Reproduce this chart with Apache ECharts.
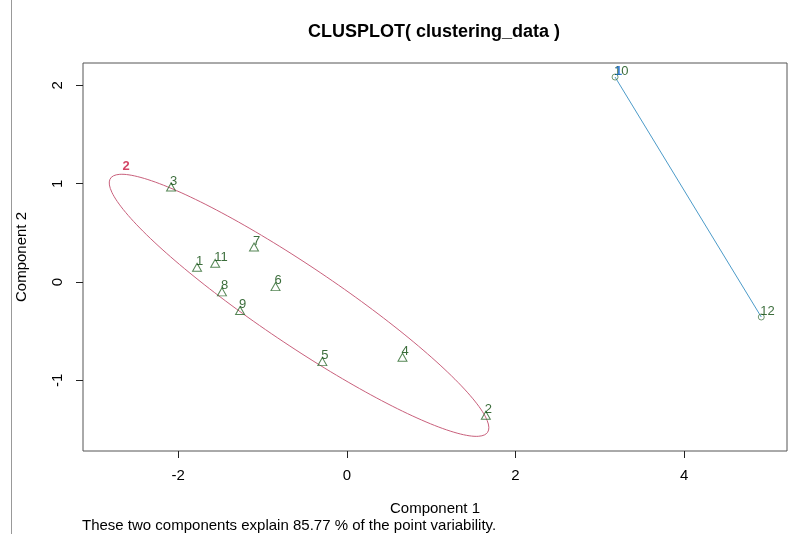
<!DOCTYPE html>
<html>
<head>
<meta charset="utf-8">
<script src="https://cdn.jsdelivr.net/npm/echarts@6/dist/echarts.min.js"></script>
<style>html,body{margin:0;padding:0;background:#fff;}#c{width:790px;height:534px;}</style>
</head>
<body>
<div id="c"></div>
<script>
// ---- data ----
const obsNames = ['1','2','3','4','5','6','7','8','9','10','11','12'];
const comp1 = [-1.775, 1.648, -2.083, 0.660, -0.290, -0.845, -1.100, -1.480, -1.265, 3.180, -1.560, 4.913];
const comp2 = [0.150, -1.356, 0.966, -0.765, -0.810, -0.047, 0.356, -0.100, -0.290, 2.085, 0.190, -0.356];
const clusterOf = [2, 2, 2, 2, 2, 2, 2, 2, 2, 1, 2, 1];
const xTicks = [-2, 0, 2, 4];
const yTicks = [-1, 0, 1, 2];
const xRange = [-3.127, 5.218];
const yRange = [-1.719, 2.228];
// cluster 2 ellipse: center, semi-axis vectors (data units)
const ellipseCenter = [-0.566, -0.237];
const ellipseAxisU = [2.235, -1.292];
const ellipseAxisV = [0.2585, 0.3286];
const clusterLabels = ['2', '1'];
const clusterLabelX = [-2.617, 3.222];
const clusterLabelY = [1.177, 2.147];
const clusterLabelColors = ['#c8173f', '#1f6fd6'];
const varExplained = 85.77;

// ---- build ----
const FONT = 'Liberation Sans, Arial, sans-serif';
const tri = [], circ = [];
obsNames.forEach((n, i) => {
  const d = {name: n, value: [comp1[i], comp2[i]]};
  (clusterOf[i] === 2 ? tri : circ).push(d);
});
const ell = [];
for (let k = 0; k <= 200; k++) {
  const t = 2 * Math.PI * k / 200;
  ell.push([ellipseCenter[0] + ellipseAxisU[0] * Math.cos(t) + ellipseAxisV[0] * Math.sin(t),
            ellipseCenter[1] + ellipseAxisU[1] * Math.cos(t) + ellipseAxisV[1] * Math.sin(t)]);
}
const seg = circ.map(d => d.value);
const ptLabel = {show: true, formatter: p => p.name, position: 'inside', align: 'left',
  verticalAlign: 'middle', offset: [-1, -6], color: '#0a480a', fontSize: 13, fontFamily: FONT};

const chart = echarts.init(document.getElementById('c'), null, {renderer: 'canvas'});
chart.setOption({
  animation: false,
  backgroundColor: '#fff',
  grid: {left: 83, right: 3, top: 63, bottom: 83, show: true, borderColor: '#555', borderWidth: 1, backgroundColor: 'transparent'},
  xAxis: {
    type: 'value', min: xRange[0], max: xRange[1],
    axisLine: {show: false, onZero: false}, splitLine: {show: false},
    axisTick: {show: true, inside: false, length: 7, customValues: xTicks, lineStyle: {color: '#222'}},
    axisLabel: {customValues: xTicks, margin: 17, color: '#000', fontSize: 15, fontFamily: FONT},
    name: 'Component 1', nameLocation: 'middle', nameGap: 50,
    nameTextStyle: {color: '#000', fontSize: 15, fontFamily: FONT}
  },
  yAxis: {
    type: 'value', min: yRange[0], max: yRange[1],
    axisLine: {show: false, onZero: false}, splitLine: {show: false},
    axisTick: {show: true, inside: false, length: 7, customValues: yTicks, lineStyle: {color: '#222'}},
    axisLabel: {customValues: yTicks, rotate: 90, margin: 18, color: '#000', fontSize: 15, fontFamily: FONT},
    name: 'Component 2', nameLocation: 'middle', nameGap: 54, nameRotate: 90,
    nameTextStyle: {color: '#000', fontSize: 15, fontFamily: FONT}
  },
  series: [
    {type: 'line', data: ell, showSymbol: false, symbol: 'none', smooth: false,
      lineStyle: {color: '#c9607c', width: 1}, z: 2, silent: true},
    {type: 'line', data: seg, showSymbol: false, symbol: 'none',
      lineStyle: {color: '#4c9bc9', width: 1}, z: 2, silent: true},
    {type: 'scatter', data: tri, symbol: 'triangle', symbolSize: [9, 8],
      itemStyle: {color: 'rgba(0,0,0,0)', borderColor: '#2a682a', borderWidth: 1}, label: ptLabel, z: 3},
    {type: 'scatter', data: circ, symbol: 'circle', symbolSize: 6,
      itemStyle: {color: 'rgba(0,0,0,0)', borderColor: '#4f7f4f', borderWidth: 1}, label: ptLabel, z: 3},
    {type: 'scatter', symbol: 'circle', symbolSize: 2,
      itemStyle: {color: 'rgba(0,0,0,0)', borderWidth: 0},
      data: clusterLabels.map((c, i) => ({name: c, value: [clusterLabelX[i], clusterLabelY[i]],
        label: {color: clusterLabelColors[i]}})),
      label: {show: true, position: 'inside', formatter: p => p.name, fontSize: 13, fontFamily: FONT, fontWeight: 'bold'},
      z: 4}
  ],
  graphic: [
    {type: 'text', x: 434, y: 32, style: {text: 'CLUSPLOT( clustering_data )', align: 'center', verticalAlign: 'middle',
      font: 'bold 18px ' + FONT, fill: '#000'}},
    {type: 'text', x: 82, y: 526, style: {text: 'These two components explain ' + varExplained + ' % of the point variability.',
      align: 'left', verticalAlign: 'middle', font: '15px ' + FONT, fill: '#000'}},
    {type: 'line', shape: {x1: 11.5, y1: 0, x2: 11.5, y2: 534}, style: {stroke: '#999', lineWidth: 1}}
  ]
});
</script>
</body>
</html>
